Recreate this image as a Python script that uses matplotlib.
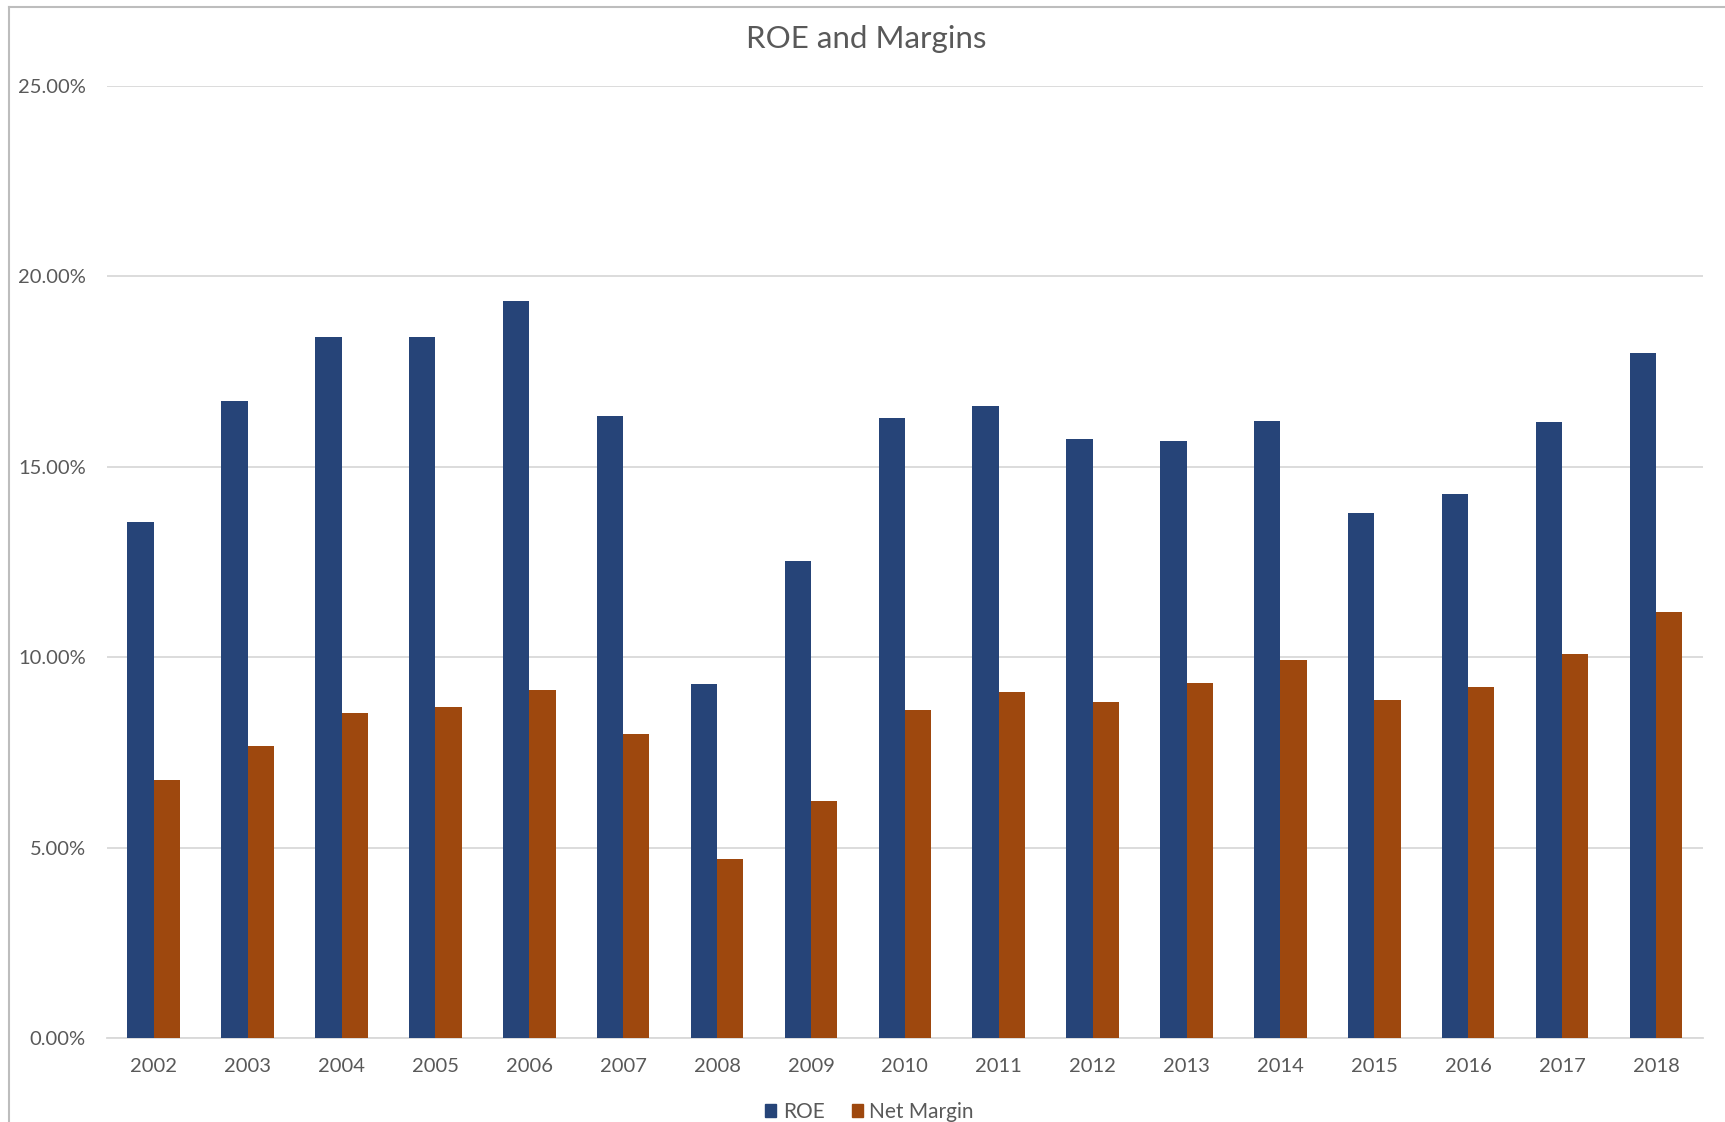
import matplotlib
matplotlib.use("Agg")
import matplotlib.pyplot as plt
import numpy as np
from matplotlib.lines import Line2D
from matplotlib.ticker import FuncFormatter

years = ["2002", "2003", "2004", "2005", "2006", "2007", "2008", "2009", "2010",
         "2011", "2012", "2013", "2014", "2015", "2016", "2017", "2018"]
roe = [13.54, 16.74, 18.42, 18.42, 19.34, 16.34, 9.30, 12.53, 16.28,
       16.60, 15.73, 15.68, 16.20, 13.80, 14.29, 16.17, 17.99]
net_margin = [6.78, 7.68, 8.55, 8.69, 9.15, 8.00, 4.71, 6.24, 8.63,
              9.09, 8.83, 9.32, 9.93, 8.89, 9.21, 10.08, 11.20]
yticks = [0, 5, 10, 15, 20, 25]

navy = "#264478"
rust = "#9E480E"
text_gray = "#595959"
grid_gray = "#D9D9D9"

plt.rcParams["font.family"] = ["Lato", "DejaVu Sans"]

fig = plt.figure(figsize=(17.25, 11.22), dpi=100)
ax = fig.add_axes([0.0619, 0.0745, 0.9253, 0.849])

x = np.arange(len(years))
w = 0.28
ax.bar(x - w / 2, roe, width=w, color=navy, label="ROE", zorder=3)
ax.bar(x + w / 2, net_margin, width=w, color=rust, label="Net Margin", zorder=3)

ax.set_xlim(-0.5, len(years) - 0.5)
ax.set_ylim(0, 25)
ax.set_yticks(yticks)
ax.yaxis.set_major_formatter(FuncFormatter(lambda v, p: f"{v:.2f}%"))
ax.set_xticks(x)
ax.set_xticklabels(years)

ax.grid(axis="y", color=grid_gray, linewidth=1.3, zorder=0)
ax.set_axisbelow(True)
for s in ["top", "right", "left"]:
    ax.spines[s].set_visible(False)
ax.spines["bottom"].set_color(grid_gray)
ax.spines["bottom"].set_linewidth(1.3)
ax.tick_params(axis="both", length=0, labelsize=14.5, labelcolor=text_gray)
ax.tick_params(axis="y", pad=15)
ax.tick_params(axis="x", pad=14)

fig.text(0.502, 0.965, "ROE and Margins", ha="center", va="center",
         fontsize=22.5, color=text_gray)

handles = [plt.Rectangle((0, 0), 1, 1, color=navy),
           plt.Rectangle((0, 0), 1, 1, color=rust)]
fig.legend(handles, ["ROE", "Net Margin"], loc="center",
           bbox_to_anchor=(0.504, 0.009), ncol=2, frameon=False,
           fontsize=15, labelcolor=text_gray, handlelength=0.55,
           handleheight=0.55, handletextpad=0.3, columnspacing=1.3)

# chart area frame (top and left edges)
fig.add_artist(Line2D([0.005, 1.0], [0.9935, 0.9935], color="#BDBDBD", linewidth=1.5,
                      transform=fig.transFigure))
fig.add_artist(Line2D([0.005, 0.005], [0.0, 0.9935], color="#BDBDBD", linewidth=1.5,
                      transform=fig.transFigure))

fig.savefig("out.png", dpi=100, facecolor="white")
